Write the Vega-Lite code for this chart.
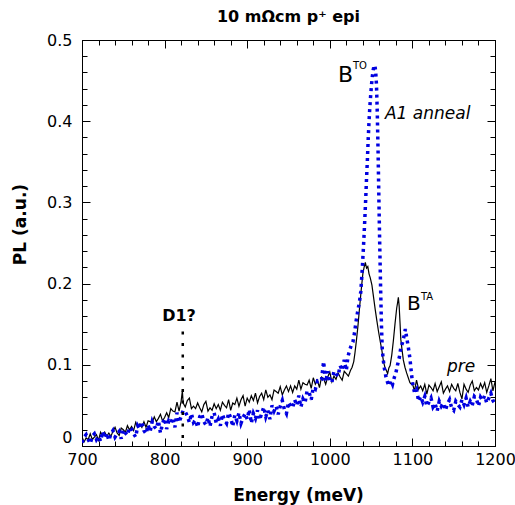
{
  "$schema": "https://vega.github.io/schema/vega-lite/v6.json",
  "width": 413,
  "height": 406,
  "autosize": "none",
  "padding": {"left": 82, "top": 40, "right": 20, "bottom": 59},
  "background": "white",
  "title": {"text": "10 mΩcm p⁺ epi", "font": "DejaVu Sans", "fontSize": 16, "fontWeight": "bold", "color": "black", "baseline": "alphabetic", "offset": 17, "anchor": "middle", "frame": "group", "dy": 23},
  "config": {
    "font": "DejaVu Sans",
    "view": {"stroke": "black", "strokeWidth": 1},
    "axis": {"domainColor": "black", "tickColor": "black", "labelColor": "black", "titleColor": "black", "grid": false, "labelFont": "DejaVu Sans", "labelFontSize": 16, "titleFont": "DejaVu Sans", "titleFontSize": 17, "titleFontWeight": "bold"}
  },
  "datasets": {
    "pre": [
      {"E":700,"PL":0.011},{"E":702.5,"PL":0.005},{"E":705,"PL":0.010},{"E":707.5,"PL":0.008},{"E":710,"PL":0.015},{"E":712.5,"PL":0.008},{"E":715,"PL":0.011},{"E":717.5,"PL":0.014},{"E":720,"PL":0.007},{"E":722.5,"PL":0.017},{"E":725,"PL":0.012},{"E":727.5,"PL":0.017},{"E":730,"PL":0.012},{"E":732.5,"PL":0.016},{"E":735,"PL":0.012},{"E":737.5,"PL":0.018},{"E":740,"PL":0.023},{"E":742.5,"PL":0.016},{"E":745,"PL":0.013},{"E":747.5,"PL":0.022},{"E":750,"PL":0.020},{"E":752.5,"PL":0.017},{"E":755,"PL":0.025},{"E":757.5,"PL":0.020},{"E":760,"PL":0.024},{"E":762.5,"PL":0.019},{"E":765,"PL":0.029},{"E":767.5,"PL":0.023},{"E":770,"PL":0.027},{"E":772.5,"PL":0.023},{"E":775,"PL":0.030},{"E":777.5,"PL":0.023},{"E":780,"PL":0.031},{"E":782.5,"PL":0.030},{"E":785,"PL":0.029},{"E":787.5,"PL":0.036},{"E":790,"PL":0.030},{"E":792.5,"PL":0.034},{"E":795,"PL":0.039},{"E":797.5,"PL":0.031},{"E":800,"PL":0.035},{"E":802.5,"PL":0.041},{"E":805,"PL":0.035},{"E":807.5,"PL":0.046},{"E":810,"PL":0.043},{"E":812.5,"PL":0.042},{"E":815,"PL":0.054},{"E":817.5,"PL":0.043},{"E":820,"PL":0.055},{"E":821.5,"PL":0.068},{"E":822.5,"PL":0.053},{"E":825,"PL":0.048},{"E":827.5,"PL":0.056},{"E":830,"PL":0.059},{"E":832.5,"PL":0.046},{"E":835,"PL":0.049},{"E":837.5,"PL":0.046},{"E":840,"PL":0.053},{"E":842.5,"PL":0.047},{"E":845,"PL":0.042},{"E":847.5,"PL":0.051},{"E":850,"PL":0.055},{"E":852.5,"PL":0.043},{"E":855,"PL":0.047},{"E":857.5,"PL":0.044},{"E":860,"PL":0.052},{"E":862.5,"PL":0.046},{"E":865,"PL":0.051},{"E":867.5,"PL":0.044},{"E":870,"PL":0.054},{"E":872.5,"PL":0.050},{"E":875,"PL":0.047},{"E":877.5,"PL":0.057},{"E":880,"PL":0.044},{"E":882.5,"PL":0.053},{"E":885,"PL":0.051},{"E":887.5,"PL":0.059},{"E":890,"PL":0.049},{"E":892.5,"PL":0.057},{"E":895,"PL":0.062},{"E":897.5,"PL":0.049},{"E":900,"PL":0.059},{"E":902.5,"PL":0.054},{"E":905,"PL":0.062},{"E":907.5,"PL":0.056},{"E":910,"PL":0.065},{"E":912.5,"PL":0.053},{"E":915,"PL":0.061},{"E":917.5,"PL":0.065},{"E":920,"PL":0.057},{"E":922.5,"PL":0.069},{"E":925,"PL":0.060},{"E":927.5,"PL":0.063},{"E":930,"PL":0.057},{"E":932.5,"PL":0.069},{"E":935,"PL":0.067},{"E":937.5,"PL":0.065},{"E":940,"PL":0.073},{"E":942.5,"PL":0.063},{"E":945,"PL":0.069},{"E":947.5,"PL":0.074},{"E":950,"PL":0.067},{"E":952.5,"PL":0.074},{"E":955,"PL":0.066},{"E":957.5,"PL":0.074},{"E":960,"PL":0.070},{"E":962.5,"PL":0.081},{"E":965,"PL":0.070},{"E":967.5,"PL":0.078},{"E":970,"PL":0.076},{"E":972.5,"PL":0.075},{"E":975,"PL":0.081},{"E":977.5,"PL":0.071},{"E":980,"PL":0.084},{"E":982.5,"PL":0.076},{"E":985,"PL":0.081},{"E":987.5,"PL":0.072},{"E":990,"PL":0.085},{"E":992.5,"PL":0.083},{"E":995,"PL":0.076},{"E":997.5,"PL":0.085},{"E":1000,"PL":0.091},{"E":1002.5,"PL":0.079},{"E":1005,"PL":0.086},{"E":1007.5,"PL":0.082},{"E":1010,"PL":0.090},{"E":1012.5,"PL":0.085},{"E":1015,"PL":0.081},{"E":1017.5,"PL":0.092},{"E":1020,"PL":0.089},{"E":1022.5,"PL":0.086},{"E":1025,"PL":0.093},
      {"E":1027,"PL":0.097},{"E":1029,"PL":0.104},{"E":1030.5,"PL":0.115},{"E":1032,"PL":0.128},{"E":1034,"PL":0.147},{"E":1036,"PL":0.170},{"E":1038,"PL":0.192},{"E":1040,"PL":0.212},{"E":1041.5,"PL":0.220},{"E":1043,"PL":0.226},{"E":1044.5,"PL":0.219},{"E":1046,"PL":0.221},{"E":1047.5,"PL":0.212},{"E":1049,"PL":0.207},{"E":1051,"PL":0.198},{"E":1053,"PL":0.183},{"E":1055,"PL":0.168},{"E":1057,"PL":0.154},{"E":1059,"PL":0.141},{"E":1061,"PL":0.129},{"E":1063,"PL":0.118},{"E":1065,"PL":0.104},{"E":1067,"PL":0.096},{"E":1068.5,"PL":0.093},{"E":1070,"PL":0.089},{"E":1071.5,"PL":0.096},{"E":1073,"PL":0.099},{"E":1075,"PL":0.112},{"E":1077,"PL":0.130},{"E":1079,"PL":0.151},{"E":1081,"PL":0.170},{"E":1082,"PL":0.176},{"E":1083,"PL":0.183},{"E":1084,"PL":0.172},{"E":1085,"PL":0.152},{"E":1086,"PL":0.131},{"E":1087.5,"PL":0.118},{"E":1089,"PL":0.106},{"E":1091,"PL":0.097},{"E":1093,"PL":0.090},{"E":1095,"PL":0.084},{"E":1097,"PL":0.078},{"E":1099,"PL":0.076},
      {"E":1100,"PL":0.077},{"E":1102.5,"PL":0.068},{"E":1105,"PL":0.081},{"E":1107.5,"PL":0.070},{"E":1110,"PL":0.074},{"E":1112.5,"PL":0.068},{"E":1115,"PL":0.076},{"E":1117.5,"PL":0.064},{"E":1120,"PL":0.075},{"E":1122.5,"PL":0.072},{"E":1125,"PL":0.068},{"E":1127.5,"PL":0.077},{"E":1130,"PL":0.067},{"E":1132.5,"PL":0.073},{"E":1135,"PL":0.079},{"E":1137.5,"PL":0.065},{"E":1140,"PL":0.070},{"E":1142.5,"PL":0.074},{"E":1145,"PL":0.067},{"E":1147.5,"PL":0.076},{"E":1150,"PL":0.071},{"E":1152.5,"PL":0.068},{"E":1155,"PL":0.077},{"E":1157.5,"PL":0.066},{"E":1160,"PL":0.058},{"E":1162.5,"PL":0.076},{"E":1165,"PL":0.070},{"E":1167.5,"PL":0.066},{"E":1170,"PL":0.075},{"E":1172.5,"PL":0.080},{"E":1175,"PL":0.068},{"E":1177.5,"PL":0.072},{"E":1180,"PL":0.069},{"E":1182.5,"PL":0.077},{"E":1185,"PL":0.071},{"E":1187.5,"PL":0.078},{"E":1190,"PL":0.066},{"E":1192.5,"PL":0.074},{"E":1195,"PL":0.083},{"E":1197.5,"PL":0.068},{"E":1200,"PL":0.079}
    ],
    "anneal": [
      {"E":700,"PL":0.004},{"E":702.5,"PL":0.011},{"E":705,"PL":0.014},{"E":707.5,"PL":0.008},{"E":710,"PL":0.003},{"E":712.5,"PL":0.012},{"E":715,"PL":0.015},{"E":717.5,"PL":0.008},{"E":720,"PL":0.012},{"E":722.5,"PL":0.006},{"E":725,"PL":0.018},{"E":727.5,"PL":0.010},{"E":730,"PL":0.016},{"E":732.5,"PL":0.007},{"E":735,"PL":0.015},{"E":737.5,"PL":0.019},{"E":740,"PL":0.011},{"E":742.5,"PL":0.015},{"E":745,"PL":0.018},{"E":747.5,"PL":0.009},{"E":750,"PL":0.020},{"E":752.5,"PL":0.016},{"E":755,"PL":0.013},{"E":757.5,"PL":0.023},{"E":760,"PL":0.021},{"E":762.5,"PL":0.015},{"E":765,"PL":0.011},{"E":767.5,"PL":0.025},{"E":770,"PL":0.021},{"E":772.5,"PL":0.030},{"E":775,"PL":0.019},{"E":777.5,"PL":0.015},{"E":780,"PL":0.026},{"E":782.5,"PL":0.018},{"E":785,"PL":0.030},{"E":787.5,"PL":0.024},{"E":790,"PL":0.021},{"E":792.5,"PL":0.031},{"E":795,"PL":0.016},{"E":797.5,"PL":0.028},{"E":800,"PL":0.034},{"E":802.5,"PL":0.021},{"E":805,"PL":0.031},{"E":807.5,"PL":0.028},{"E":810,"PL":0.035},{"E":812.5,"PL":0.023},{"E":815,"PL":0.041},{"E":817.5,"PL":0.029},{"E":820,"PL":0.036},{"E":822.5,"PL":0.044},{"E":825,"PL":0.042},{"E":827.5,"PL":0.037},{"E":830,"PL":0.029},{"E":832.5,"PL":0.040},{"E":835,"PL":0.029},{"E":837.5,"PL":0.032},{"E":840,"PL":0.023},{"E":842.5,"PL":0.036},{"E":845,"PL":0.040},{"E":847.5,"PL":0.030},{"E":850,"PL":0.026},{"E":852.5,"PL":0.035},{"E":855,"PL":0.024},{"E":857.5,"PL":0.037},{"E":860,"PL":0.041},{"E":862.5,"PL":0.028},{"E":865,"PL":0.033},{"E":867.5,"PL":0.025},{"E":870,"PL":0.039},{"E":872.5,"PL":0.032},{"E":875,"PL":0.028},{"E":877.5,"PL":0.041},{"E":880,"PL":0.035},{"E":882.5,"PL":0.024},{"E":885,"PL":0.038},{"E":887.5,"PL":0.031},{"E":890,"PL":0.041},{"E":892.5,"PL":0.028},{"E":895,"PL":0.035},{"E":897.5,"PL":0.040},{"E":900,"PL":0.033},{"E":902.5,"PL":0.045},{"E":905,"PL":0.028},{"E":907.5,"PL":0.040},{"E":910,"PL":0.034},{"E":912.5,"PL":0.044},{"E":915,"PL":0.032},{"E":917.5,"PL":0.040},{"E":920,"PL":0.048},{"E":922.5,"PL":0.036},{"E":925,"PL":0.044},{"E":927.5,"PL":0.033},{"E":930,"PL":0.050},{"E":932.5,"PL":0.043},{"E":935,"PL":0.049},{"E":937.5,"PL":0.039},{"E":940,"PL":0.049},{"E":942.5,"PL":0.056},{"E":945,"PL":0.045},{"E":947.5,"PL":0.040},{"E":950,"PL":0.054},{"E":952.5,"PL":0.050},{"E":955,"PL":0.047},{"E":957.5,"PL":0.057},{"E":960,"PL":0.050},{"E":962.5,"PL":0.062},{"E":965,"PL":0.048},{"E":967.5,"PL":0.058},{"E":970,"PL":0.053},{"E":972.5,"PL":0.068},{"E":975,"PL":0.066},{"E":977.5,"PL":0.057},{"E":980,"PL":0.072},{"E":982.5,"PL":0.070},{"E":985,"PL":0.080},{"E":987.5,"PL":0.079},{"E":990,"PL":0.082},{"E":992.5,"PL":0.104},{"E":995,"PL":0.079},{"E":997.5,"PL":0.092},{"E":1000,"PL":0.081},{"E":1002.5,"PL":0.078},{"E":1005,"PL":0.092},{"E":1007.5,"PL":0.089},{"E":1010,"PL":0.086},{"E":1012.5,"PL":0.099},{"E":1015,"PL":0.093},{"E":1017.5,"PL":0.106},{"E":1020,"PL":0.093},
      {"E":1022,"PL":0.110},{"E":1024,"PL":0.118},{"E":1026,"PL":0.124},{"E":1028,"PL":0.128},{"E":1030,"PL":0.140},{"E":1032,"PL":0.155},{"E":1034,"PL":0.167},{"E":1036,"PL":0.178},{"E":1037.5,"PL":0.190},{"E":1038.5,"PL":0.205},{"E":1039.5,"PL":0.222},{"E":1040.5,"PL":0.240},{"E":1041.5,"PL":0.260},{"E":1042.5,"PL":0.282},{"E":1043.5,"PL":0.305},{"E":1044.5,"PL":0.330},{"E":1045.5,"PL":0.352},{"E":1046.5,"PL":0.378},{"E":1047.5,"PL":0.400},{"E":1048.5,"PL":0.418},{"E":1049.5,"PL":0.432},{"E":1050.5,"PL":0.445},{"E":1051.5,"PL":0.455},{"E":1052.5,"PL":0.463},{"E":1053.5,"PL":0.468},{"E":1054.5,"PL":0.469},{"E":1055.5,"PL":0.462},{"E":1056.5,"PL":0.445},{"E":1057.5,"PL":0.410},{"E":1058.5,"PL":0.360},{"E":1059.5,"PL":0.300},{"E":1060.5,"PL":0.245},{"E":1061.5,"PL":0.195},{"E":1062.5,"PL":0.150},{"E":1063.5,"PL":0.120},{"E":1064.5,"PL":0.108},{"E":1066,"PL":0.096},{"E":1068,"PL":0.085},{"E":1070,"PL":0.078},{"E":1072,"PL":0.074},{"E":1074,"PL":0.081},{"E":1076,"PL":0.076},{"E":1078,"PL":0.084},{"E":1080,"PL":0.090},{"E":1082,"PL":0.100},{"E":1084,"PL":0.108},{"E":1086,"PL":0.121},{"E":1088,"PL":0.127},{"E":1090,"PL":0.136},{"E":1091.5,"PL":0.144},{"E":1093,"PL":0.134},{"E":1095,"PL":0.122},{"E":1097,"PL":0.108},{"E":1099,"PL":0.088},
      {"E":1100,"PL":0.079},{"E":1102.5,"PL":0.066},{"E":1105,"PL":0.070},{"E":1107.5,"PL":0.055},{"E":1110,"PL":0.061},{"E":1112.5,"PL":0.054},{"E":1115,"PL":0.061},{"E":1117.5,"PL":0.049},{"E":1120,"PL":0.054},{"E":1122.5,"PL":0.059},{"E":1125,"PL":0.048},{"E":1127.5,"PL":0.052},{"E":1130,"PL":0.043},{"E":1132.5,"PL":0.055},{"E":1135,"PL":0.049},{"E":1137.5,"PL":0.053},{"E":1140,"PL":0.044},{"E":1142.5,"PL":0.052},{"E":1145,"PL":0.057},{"E":1147.5,"PL":0.047},{"E":1150,"PL":0.044},{"E":1152.5,"PL":0.055},{"E":1155,"PL":0.051},{"E":1157.5,"PL":0.048},{"E":1160,"PL":0.057},{"E":1162.5,"PL":0.051},{"E":1165,"PL":0.059},{"E":1167.5,"PL":0.048},{"E":1170,"PL":0.055},{"E":1172.5,"PL":0.050},{"E":1175,"PL":0.061},{"E":1177.5,"PL":0.058},{"E":1180,"PL":0.049},{"E":1182.5,"PL":0.060},{"E":1185,"PL":0.056},{"E":1187.5,"PL":0.062},{"E":1190,"PL":0.053},{"E":1192.5,"PL":0.059},{"E":1195,"PL":0.065},{"E":1197.5,"PL":0.056},{"E":1200,"PL":0.052}
    ]
  },
  "layer": [
    {
      "data": {"name": "pre"},
      "mark": {"type": "line", "color": "black", "strokeWidth": 1.2, "clip": true},
      "encoding": {
        "x": {"field": "E", "type": "quantitative", "scale": {"domain": [700, 1200], "nice": false, "zero": false},
          "axis": {"orient": "bottom", "title": "Energy (meV)", "values": [700,720,740,760,780,800,820,840,860,880,900,920,940,960,980,1000,1020,1040,1060,1080,1100,1120,1140,1160,1180,1200],
            "tickSize": {"condition": {"test": "datum.value % 100 === 0", "value": -8}, "value": -5},
            "labelExpr": "datum.value % 100 === 0 ? format(datum.value, 'd') : ''", "labelBaseline": "top", "labelPadding": 13, "labelFlush": false,
            "titleX": 216, "titleY": 54, "titleBaseline": "alphabetic", "titleAlign": "center"}},
        "y": {"field": "PL", "type": "quantitative", "scale": {"domain": [0, 0.5], "nice": false},
          "axis": {"orient": "left", "title": "PL (a.u.)", "values": [0,0.02,0.04,0.06,0.08,0.1,0.12,0.14,0.16,0.18,0.2,0.22,0.24,0.26,0.28,0.3,0.32,0.34,0.36,0.38,0.4,0.42,0.44,0.46,0.48,0.5],
            "tickSize": {"condition": {"test": "abs(datum.value*10 - round(datum.value*10)) < 1e-6", "value": -8}, "value": -5},
            "labelExpr": "abs(datum.value*10 - round(datum.value*10)) < 1e-6 ? (datum.value == 0 ? '0' : format(datum.value, '.1f')) : ''",
            "labelOffset": {"condition": {"test": "datum.value === 0", "value": -9}, "value": 0},
            "labelPadding": 18, "labelFlush": false,
            "titleX": -62, "titleY": 184, "titleAngle": 270, "titleBaseline": "middle", "titleAlign": "center"}}
      }
    },
    {
      "data": {"name": "anneal"},
      "mark": {"type": "line", "color": "#0000e0", "strokeWidth": 3.5, "strokeDash": [3, 4], "clip": true},
      "encoding": {
        "x": {"field": "E", "type": "quantitative", "scale": {"domain": [700, 1200], "nice": false, "zero": false},
          "axis": {"orient": "top", "title": null, "labels": false, "values": [700,720,740,760,780,800,820,840,860,880,900,920,940,960,980,1000,1020,1040,1060,1080,1100,1120,1140,1160,1180,1200],
            "tickSize": {"condition": {"test": "datum.value % 100 === 0", "value": -8}, "value": -5}}},
        "y": {"field": "PL", "type": "quantitative", "scale": {"domain": [0, 0.5], "nice": false},
          "axis": {"orient": "right", "title": null, "labels": false, "values": [0,0.02,0.04,0.06,0.08,0.1,0.12,0.14,0.16,0.18,0.2,0.22,0.24,0.26,0.28,0.3,0.32,0.34,0.36,0.38,0.4,0.42,0.44,0.46,0.48,0.5],
            "tickSize": {"condition": {"test": "abs(datum.value*10 - round(datum.value*10)) < 1e-6", "value": -8}, "value": -5}}}
      }
    },
    {
      "data": {"values": [{"E": 822, "top": 0.141, "bottom": 0}]},
      "mark": {"type": "rule", "color": "black", "strokeWidth": 2.5, "strokeDash": [3, 8.5]},
      "encoding": {
        "x": {"field": "E", "type": "quantitative", "scale": {"domain": [700, 1200], "nice": false, "zero": false}, "axis": null},
        "y": {"field": "top", "type": "quantitative", "scale": {"domain": [0, 0.5], "nice": false}, "axis": null},
        "y2": {"field": "bottom"}
      }
    },
    {
      "data": {"values": [{"E": 1009.9, "PL": 0.448, "label": "B"}]},
      "mark": {"type": "text", "font": "DejaVu Sans", "fontSize": 22, "align": "left", "baseline": "alphabetic", "color": "black"},
      "encoding": {
        "x": {"field": "E", "type": "quantitative", "scale": {"domain": [700, 1200], "nice": false, "zero": false}, "axis": null},
        "y": {"field": "PL", "type": "quantitative", "scale": {"domain": [0, 0.5], "nice": false}, "axis": null},
        "text": {"field": "label"}
      }
    },
    {
      "data": {"values": [{"E": 1028.1, "PL": 0.464, "label": "TO"}, {"E": 1110.4, "PL": 0.180, "label": "TA"}]},
      "mark": {"type": "text", "font": "DejaVu Sans", "fontSize": 10, "align": "left", "baseline": "alphabetic", "color": "black"},
      "encoding": {
        "x": {"field": "E", "type": "quantitative", "scale": {"domain": [700, 1200], "nice": false, "zero": false}, "axis": null},
        "y": {"field": "PL", "type": "quantitative", "scale": {"domain": [0, 0.5], "nice": false}, "axis": null},
        "text": {"field": "label"}
      }
    },
    {
      "data": {"values": [{"E": 1093.5, "PL": 0.1675, "label": "B"}]},
      "mark": {"type": "text", "font": "DejaVu Sans", "fontSize": 20, "align": "left", "baseline": "alphabetic", "color": "black"},
      "encoding": {
        "x": {"field": "E", "type": "quantitative", "scale": {"domain": [700, 1200], "nice": false, "zero": false}, "axis": null},
        "y": {"field": "PL", "type": "quantitative", "scale": {"domain": [0, 0.5], "nice": false}, "axis": null},
        "text": {"field": "label"}
      }
    },
    {
      "data": {"values": [{"E": 1066.8, "PL": 0.4027, "label": "A1 anneal"}]},
      "mark": {"type": "text", "font": "DejaVu Sans", "fontSize": 17, "fontStyle": "italic", "align": "left", "baseline": "alphabetic", "color": "black"},
      "encoding": {
        "x": {"field": "E", "type": "quantitative", "scale": {"domain": [700, 1200], "nice": false, "zero": false}, "axis": null},
        "y": {"field": "PL", "type": "quantitative", "scale": {"domain": [0, 0.5], "nice": false}, "axis": null},
        "text": {"field": "label"}
      }
    },
    {
      "data": {"values": [{"E": 1141.9, "PL": 0.0911, "label": "pre"}]},
      "mark": {"type": "text", "font": "DejaVu Sans", "fontSize": 17, "fontStyle": "italic", "align": "left", "baseline": "alphabetic", "color": "black"},
      "encoding": {
        "x": {"field": "E", "type": "quantitative", "scale": {"domain": [700, 1200], "nice": false, "zero": false}, "axis": null},
        "y": {"field": "PL", "type": "quantitative", "scale": {"domain": [0, 0.5], "nice": false}, "axis": null},
        "text": {"field": "label"}
      }
    },
    {
      "data": {"values": [{"E": 817.4, "PL": 0.154, "label": "D1?"}]},
      "mark": {"type": "text", "font": "DejaVu Sans", "fontSize": 16, "fontWeight": "bold", "align": "center", "baseline": "alphabetic", "color": "black"},
      "encoding": {
        "x": {"field": "E", "type": "quantitative", "scale": {"domain": [700, 1200], "nice": false, "zero": false}, "axis": null},
        "y": {"field": "PL", "type": "quantitative", "scale": {"domain": [0, 0.5], "nice": false}, "axis": null},
        "text": {"field": "label"}
      }
    }
  ],
  "resolve": {"scale": {"x": "independent", "y": "independent"}}
}
